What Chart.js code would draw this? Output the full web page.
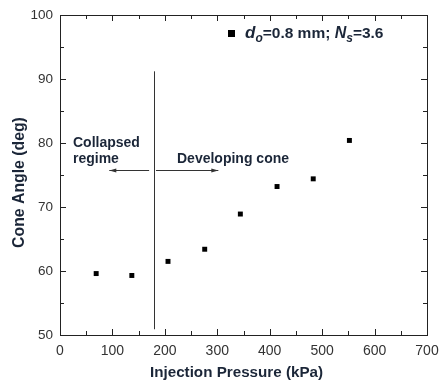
<!DOCTYPE html>
<html><head><meta charset="utf-8">
<script src="https://cdn.jsdelivr.net/npm/chart.js@4"></script>
<style>html,body{margin:0;padding:0;background:#fff}#wrap{width:439px;height:381px}</style>
</head><body><div id="wrap"><canvas id="c" width="439" height="381"></canvas></div>
<script>
const pressure = [69, 137, 206, 276, 344, 414, 483, 552];
const coneAngle = [59.6, 59.3, 61.5, 63.4, 68.9, 73.2, 74.4, 80.4];
const xTicks = [0, 100, 200, 300, 400, 500, 600, 700];
const yTicks = [50, 60, 70, 80, 90, 100];
const dividerX = 180;
const dividerY = [50.9, 91.2];
const arrowY = 75.8;
const leftArrow = [170, 94];
const rightArrow = [183, 302];
const xTitle = 'Injection Pressure (kPa)';
const yTitle = 'Cone Angle (deg)';

const TXT = '#1b2638';
const TICK = '#333';
const FONT = '"Liberation Sans", Arial, sans-serif';

const deco = {
  id: 'deco',
  afterDraw(chart) {
    const {ctx, chartArea: a, scales: {x, y}} = chart;
    ctx.save();
    ctx.strokeStyle = '#222'; ctx.lineWidth = 1;
    ctx.strokeRect(Math.round(a.left)+0.5, Math.round(a.top)+0.5, Math.round(a.right-a.left), Math.round(a.bottom-a.top));
    ctx.beginPath();
    for (let v = 0; v <= 700; v += 50) {
      const px = Math.round(x.getPixelForValue(v)) + 0.5;
      const len = (v % 100 === 0) ? 6 : 4;
      ctx.moveTo(px, a.bottom); ctx.lineTo(px, a.bottom - len);
      ctx.moveTo(px, a.top); ctx.lineTo(px, a.top + len);
    }
    for (let v = 50; v <= 100; v += 5) {
      const py = Math.round(y.getPixelForValue(v)) + 0.5;
      const len = (v % 10 === 0) ? 6 : 4;
      ctx.moveTo(a.left, py); ctx.lineTo(a.left + len, py);
      ctx.moveTo(a.right, py); ctx.lineTo(a.right - len, py);
    }
    ctx.stroke();
    const dx = Math.round(x.getPixelForValue(dividerX)) + 0.5;
    ctx.strokeStyle = '#333';
    ctx.beginPath();
    ctx.moveTo(dx, y.getPixelForValue(dividerY[0]));
    ctx.lineTo(dx, y.getPixelForValue(dividerY[1]));
    ctx.stroke();
    const ay = Math.round(y.getPixelForValue(arrowY)) + 0.5;
    function arrow(x0, x1) {
      const p0 = x.getPixelForValue(x0), p1 = x.getPixelForValue(x1);
      const dir = Math.sign(p1 - p0);
      ctx.beginPath(); ctx.moveTo(p0, ay); ctx.lineTo(p1, ay); ctx.stroke();
      ctx.beginPath(); ctx.moveTo(p1, ay); ctx.lineTo(p1 - dir*7, ay - 2); ctx.lineTo(p1 - dir*7, ay + 2); ctx.closePath(); ctx.fill();
    }
    ctx.fillStyle = '#333';
    arrow(leftArrow[0], leftArrow[1]);
    arrow(rightArrow[0], rightArrow[1]);
    ctx.fillStyle = TXT;
    ctx.font = 'bold 14px ' + FONT;
    ctx.textBaseline = 'alphabetic';
    ctx.textAlign = 'left';
    ctx.fillText('Collapsed', 73, 147);
    ctx.fillText('regime', 73, 163);
    ctx.fillText('Developing cone', 177, 163);
    ctx.font = 'bold 15.2px ' + FONT;
    ctx.textAlign = 'center';
    ctx.fillText(xTitle, 236.5, 377);
    ctx.save();
    ctx.translate(23.5, 182.5);
    ctx.rotate(-Math.PI / 2);
    ctx.font = 'bold 15.8px ' + FONT;
    ctx.fillText(yTitle, 0, 0);
    ctx.restore();
    ctx.textAlign = 'left';
    ctx.fillStyle = '#000';
    ctx.fillRect(228, 30, 7, 7);
    let lx = 245; const ly = 38;
    ctx.fillStyle = TXT;
    function seg(t, font, dy) { ctx.font = font; ctx.fillText(t, lx, ly + (dy||0)); lx += ctx.measureText(t).width; }
    seg('d', 'italic bold 17px ' + FONT);
    seg('o', 'italic bold 12px ' + FONT, 4);
    seg('=0.8 mm; ', 'bold 15.5px ' + FONT);
    seg('N', 'italic bold 16px ' + FONT);
    seg('s', 'italic bold 12px ' + FONT, 4);
    seg('=3.6', 'bold 15.5px ' + FONT);
    ctx.restore();
  }
};

new Chart(document.getElementById('c'), {
  type: 'scatter',
  data: { datasets: [{
    data: pressure.map((p, i) => ({x: p, y: coneAngle[i]})),
    pointStyle: 'rect', pointRadius: 3.5, backgroundColor: '#000', borderColor: '#000', borderWidth: 0
  }]},
  options: {
    responsive: false, animation: false, devicePixelRatio: 1,
    layout: { padding: { top: 15, right: 12, left: 0, bottom: 0 } },
    plugins: { legend: { display: false }, tooltip: { enabled: false } },
    scales: {
      x: {
        type: 'linear', min: 0, max: 700,
        afterBuildTicks: s => { s.ticks = xTicks.map(v => ({value: v})); },
        afterFit: s => { s.height = 46; s.paddingLeft = 0; s.paddingRight = 0; },
        grid: { display: false, drawTicks: false }, border: { display: false },
        ticks: { color: TICK, font: { family: FONT, size: 14 }, padding: 8, maxRotation: 0, autoSkip: false },
        title: { display: false }
      },
      y: {
        type: 'linear', min: 50, max: 100,
        afterBuildTicks: s => { s.ticks = yTicks.map(v => ({value: v})); },
        afterFit: s => { s.width = 60; s.paddingTop = 0; s.paddingBottom = 0; },
        grid: { display: false, drawTicks: false }, border: { display: false },
        ticks: { color: TICK, font: { family: FONT, size: 13.5 }, padding: 7, autoSkip: false },
        title: { display: false }
      }
    }
  },
  plugins: [deco]
});
</script></body></html>
